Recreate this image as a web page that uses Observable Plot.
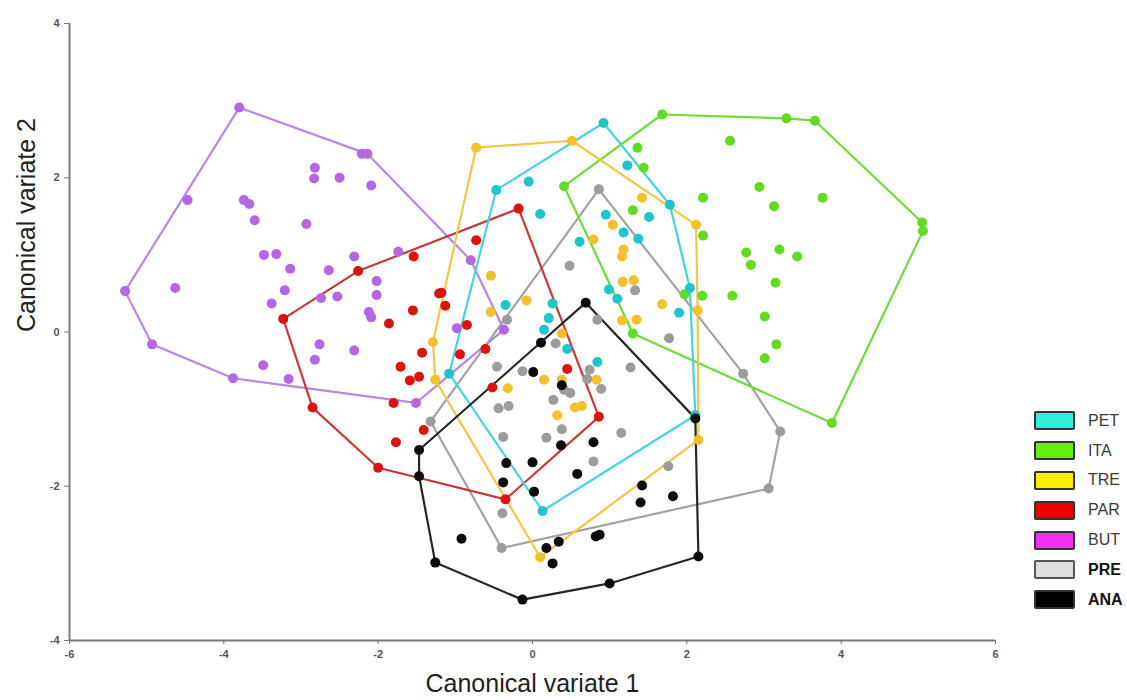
<!DOCTYPE html>
<html><head><meta charset="utf-8">
<script src="https://cdn.jsdelivr.net/npm/d3@7"></script>
<script src="https://cdn.jsdelivr.net/npm/@observablehq/plot@0.6"></script>
<style>
body{margin:0;background:#fff;}
#wrap{position:relative;width:1127px;height:700px;font-family:"Liberation Sans",Arial,sans-serif;}
#legend{position:absolute;left:1034px;top:406px;}
.item{display:flex;align-items:center;height:29.8px;}
.sw{box-sizing:border-box;width:41px;height:19px;border:2px solid #333;border-radius:2px;}
.lab{margin-left:13px;font-size:16px;color:#3a3a3a;}
.lab.b{font-weight:bold;color:#111;}
</style>
</head><body>
<div id="wrap"><div id="chart"></div><div id="legend"></div></div>
<script>
// ---- data (canonical variate 1, canonical variate 2) ----
const groups = ["PET","ITA","TRE","PAR","BUT","PRE","ANA"];
const xTicks = [-6,-4,-2,0,2,4,6];
const yTicks = [-4,-2,0,2,4];

const BUT = [[-3.80,2.91],[-2.21,2.31],[-2.14,2.31],[-4.47,1.71],[-5.28,0.53],[-4.93,-0.16],[-3.88,-0.60],[-3.16,-0.61],[-1.51,-0.92],[-0.37,0.03],[-0.80,0.93],
 [-2.82,2.13],[-2.83,1.99],[-2.50,2.00],[-2.09,1.90],[-3.74,1.71],[-3.67,1.66],[-3.60,1.45],[-2.93,1.40],[-3.48,1.00],[-3.32,1.01],[-3.14,0.82],[-2.64,0.80],[-2.31,0.98],[-2.02,0.66],[-2.02,0.48],[-4.63,0.57],[-3.21,0.54],[-3.38,0.37],[-2.74,0.44],[-2.53,0.46],[-2.12,0.26],[-2.09,0.19],[-1.74,1.04],[-2.76,-0.16],[-2.31,-0.24],[-2.82,-0.36],[-3.49,-0.43],[-0.98,0.05]];
const PAR = [[-0.18,1.60],[-2.26,0.79],[-3.23,0.17],[-2.85,-0.98],[-2.00,-1.76],[-0.35,-2.17],[0.86,-1.10],
 [-1.54,0.98],[-1.21,0.50],[-1.55,0.28],[-1.86,0.11],[-1.43,-0.27],[-1.71,-0.45],[-1.47,-0.58],[-1.59,-0.63],[-1.41,-1.27],[-1.77,-1.43],[-1.80,-0.92],[-0.73,1.19],[-1.18,0.51],[-1.13,0.34],[-0.85,0.09],[-0.94,-0.29],[-0.52,-0.72],[0.45,-0.48],[-0.61,-0.22]];
const PET = [[0.92,2.71],[1.78,1.65],[2.04,0.57],[2.11,-1.08],[0.13,-2.32],[-1.08,-0.54],[-0.47,1.84],
 [-0.05,1.95],[0.10,1.53],[1.23,2.16],[0.95,1.52],[1.51,1.49],[1.18,1.29],[1.37,1.21],[0.61,1.17],[0.99,0.55],[1.10,0.43],[1.90,0.25],[-0.35,0.35],[0.26,0.37],[0.21,0.18],[0.15,0.03],[0.45,-0.22],[0.84,-0.39]];
const ITA = [[1.68,2.82],[3.29,2.77],[3.66,2.74],[5.05,1.42],[5.06,1.31],[3.88,-1.18],[1.30,-0.02],[0.41,1.89],
 [1.36,2.39],[1.44,2.13],[2.56,2.48],[2.94,1.88],[2.21,1.74],[3.76,1.74],[3.13,1.63],[1.30,1.58],[2.21,1.25],[2.77,1.03],[3.20,1.07],[3.43,0.98],[2.83,0.87],[3.15,0.64],[2.59,0.47],[2.20,0.47],[1.97,0.49],[3.01,0.20],[3.16,-0.16],[3.01,-0.34]];
const TRE = [[-0.73,2.39],[0.51,2.48],[2.12,1.39],[2.15,-1.40],[0.10,-2.92],[-1.26,-0.62],[-1.29,-0.13],
 [1.42,1.74],[1.04,1.39],[0.79,1.20],[1.18,1.07],[1.16,0.98],[1.17,0.65],[1.31,0.67],[1.68,0.36],[1.16,0.15],[1.35,0.16],[2.14,0.28],[-0.54,0.73],[-0.08,0.41],[-0.54,0.26],[0.38,-0.02],[0.15,-0.62],[0.38,-0.62],[-0.32,-0.73],[0.83,-0.62],[0.32,-1.08],[0.55,-0.98],[0.64,-0.96]];
const PRE = [[0.86,1.85],[2.73,-0.54],[3.21,-1.29],[3.06,-2.03],[-0.40,-2.80],[-1.32,-1.16],[-0.33,0.16],
 [0.48,0.86],[1.33,0.54],[0.84,0.16],[1.77,-0.08],[-0.46,-0.45],[-0.13,-0.51],[0.74,-0.49],[0.71,-0.61],[1.27,-0.46],[0.89,-0.74],[0.41,-0.75],[0.49,-0.79],[0.27,-0.88],[-0.44,-0.99],[-0.31,-0.96],[0.30,-0.15],[0.38,-1.26],[0.18,-1.37],[-0.38,-1.36],[1.15,-1.31],[0.79,-1.68],[1.76,-1.74],[-0.39,-2.35]];
const ANA = [[0.69,0.38],[2.11,-1.12],[2.15,-2.91],[1.00,-3.26],[-0.13,-3.47],[-1.26,-2.99],[-1.47,-1.87],[-1.47,-1.53],
 [0.11,-0.14],[0.01,-0.52],[0.38,-0.69],[0.79,-1.43],[0.37,-1.47],[-0.34,-1.70],[0.00,-1.69],[0.58,-1.84],[-0.38,-1.95],[0.02,-2.07],[1.42,-1.99],[1.82,-2.13],[1.40,-2.21],[-0.92,-2.68],[0.18,-2.80],[0.34,-2.72],[0.26,-3.00],[0.82,-2.65],[0.87,-2.63]];

// ---- styles ----
const dotColor  = {PET:"#1fc4cc",ITA:"#62dc22",TRE:"#f3c12a",PAR:"#d8150f",BUT:"#b466e4",PRE:"#9c9c9c",ANA:"#0c0c0c"};
const lineColor = {PET:"#45d3dc",ITA:"#6edc3c",TRE:"#f2c64a",PAR:"#c8383a",BUT:"#b986e2",PRE:"#a2a2a2",ANA:"#262626"};
const legendFill= {PET:"#33eedd",ITA:"#66ee11",TRE:"#ffee00",PAR:"#ee0000",BUT:"#ee33ee",PRE:"#dddddd",ANA:"#000000"};

const series = {PET,ITA,TRE,PAR,BUT,PRE,ANA};
const data = groups.flatMap(g => series[g].map(([x,y]) => ({group:g, x, y})));

const hullOrder = ["PRE","BUT","PAR","ITA","TRE","PET","ANA"];
const dotOrder  = ["BUT","PRE","ITA","TRE","PET","PAR","ANA"];

const chart = Plot.plot({
  width: 1127, height: 700,
  marginLeft: 69, marginRight: 132, marginTop: 23, marginBottom: 60,
  style: {fontFamily: "'Liberation Sans', Arial, sans-serif", background: "#fff"},
  x: {domain: [-6,6]},
  y: {domain: [-4,4]},
  marks: [
    ...hullOrder.map(g => Plot.hull(data.filter(d => d.group === g), {x:"x", y:"y", stroke: lineColor[g], strokeWidth: 2.2, strokeLinejoin: "round"})),
    ...dotOrder.map(g => Plot.dot(data.filter(d => d.group === g), {x:"x", y:"y", r: 5, fill: dotColor[g], stroke: "none"})),
    Plot.ruleX([-6], {stroke: "#7a7a7a", strokeWidth: 2}),
    Plot.ruleY([-4], {stroke: "#7a7a7a", strokeWidth: 2}),
    Plot.axisX({ticks: xTicks, tickSize: 4, tickPadding: 6, fontSize: 11, fontWeight: "bold", fill: "#555", stroke: "#777", tickFormat: d => String(d), label: null}),
    Plot.axisY({ticks: yTicks, tickSize: 5, tickPadding: 5, fontSize: 11, fontWeight: "bold", fill: "#555", stroke: "#777", tickFormat: d => String(d), label: null}),
    Plot.text(["Canonical variate 1"], {frameAnchor: "bottom", dy: 51, fontSize: 25, fill: "#222"}),
    Plot.text(["Canonical variate 2"], {frameAnchor: "left", dx: -43, rotate: -90, fontSize: 25, fill: "#222"})
  ]
});
document.getElementById("chart").appendChild(chart);

const legend = document.getElementById("legend");
groups.forEach(g => {
  const it = document.createElement("div"); it.className = "item";
  const sw = document.createElement("div"); sw.className = "sw"; sw.style.background = legendFill[g];
  if (g === "PRE") sw.style.borderColor = "#555";
  const lb = document.createElement("div"); lb.className = "lab" + ((g === "PRE" || g === "ANA") ? " b" : ""); lb.textContent = g;
  it.appendChild(sw); it.appendChild(lb); legend.appendChild(it);
});
</script>
</body></html>
